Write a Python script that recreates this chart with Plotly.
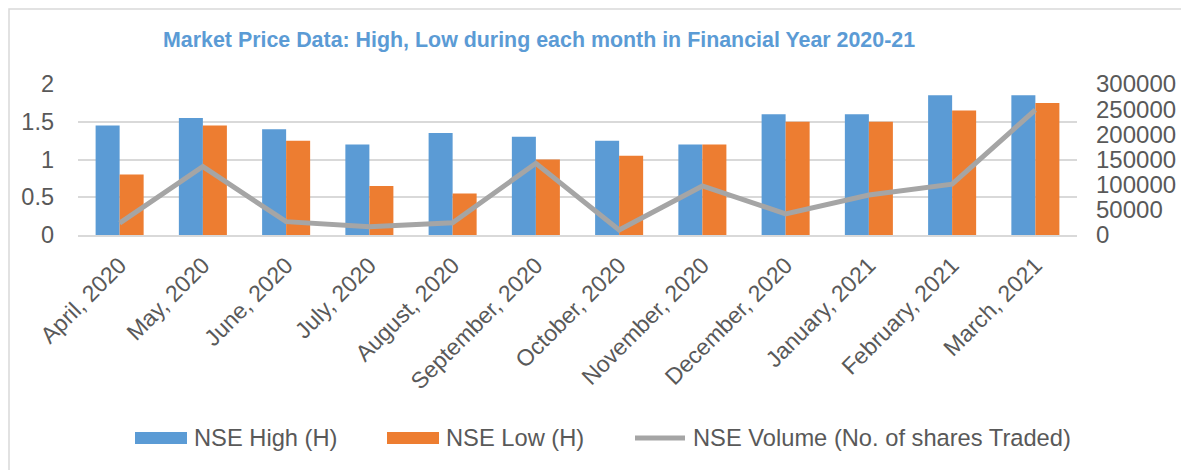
import plotly.graph_objects as go

months = ["April, 2020", "May, 2020", "June, 2020", "July, 2020", "August, 2020",
          "September, 2020", "October, 2020", "November, 2020", "December, 2020",
          "January, 2021", "February, 2021", "March, 2021"]
nse_high = [1.45, 1.55, 1.40, 1.20, 1.35, 1.30, 1.25, 1.20, 1.60, 1.60, 1.85, 1.85]
nse_low = [0.80, 1.45, 1.25, 0.65, 0.55, 1.00, 1.05, 1.20, 1.50, 1.50, 1.65, 1.75]
nse_volume = [23500, 136000, 26500, 16500, 24500, 142500, 10000, 97500, 42000, 79500, 101000, 248500]

series_names = ["NSE High (H)", "NSE Low (H)", "NSE Volume (No. of shares Traded)"]
title_text = "Market Price Data: High, Low during each month in Financial Year 2020-21"

BLUE = "#5B9BD5"
ORANGE = "#ED7D31"
GRAY = "#A5A5A5"
TXT = "#595959"
GRID = "#D9D9D9"
FONT = "Liberation Sans, Arial, sans-serif"

OFF = 8  # page body margin
W, H = 1189 - OFF, 470 - OFF
# plot area in window pixel coordinates
PL, PR, PT, PB = 78, 1077, 84, 235


def px(x):
    return (x - PL) / (PR - PL)


def py(y):
    return (PB - y) / (PB - PT)


fig = go.Figure()
fig.add_trace(go.Bar(x=months, y=nse_high, name=series_names[0], marker_color=BLUE,
                     marker_line_width=0))
fig.add_trace(go.Bar(x=months, y=nse_low, name=series_names[1], marker_color=ORANGE,
                     marker_line_width=0))
fig.add_trace(go.Scatter(x=months, y=nse_volume, name=series_names[2], yaxis="y2",
                         mode="lines", line=dict(color=GRAY, width=5)))

shapes = [
    # outer frame (left and top edges)
    dict(type="path", xref="paper", yref="paper",
         path=f"M {px(OFF + 1)} {py(480)} L {px(OFF + 1)} {py(OFF + 1)} L {px(1200)} {py(OFF + 1)}",
         line=dict(color=GRID, width=1.5)),
    # legend symbols
    dict(type="rect", xref="paper", yref="paper", x0=px(135), x1=px(187),
         y0=py(432), y1=py(444), fillcolor=BLUE, line_width=0),
    dict(type="rect", xref="paper", yref="paper", x0=px(387), x1=px(439),
         y0=py(432), y1=py(444), fillcolor=ORANGE, line_width=0),
    dict(type="line", xref="paper", yref="paper", x0=px(635), x1=px(685),
         y0=py(438), y1=py(438), line=dict(color=GRAY, width=5)),
]

annotations = [
    dict(text=f"<b>{title_text}</b>", xref="paper", yref="paper", x=px(539), y=py(40),
         xanchor="center", yanchor="middle", showarrow=False,
         font=dict(family=FONT, size=21.4, color=BLUE)),
    dict(text=series_names[0], xref="paper", yref="paper", x=px(192), y=py(438),
         xanchor="left", yanchor="middle", showarrow=False,
         font=dict(family=FONT, size=23.7, color=TXT)),
    dict(text=series_names[1], xref="paper", yref="paper", x=px(444), y=py(438),
         xanchor="left", yanchor="middle", showarrow=False,
         font=dict(family=FONT, size=23.7, color=TXT)),
    dict(text=series_names[2], xref="paper", yref="paper", x=px(691), y=py(438),
         xanchor="left", yanchor="middle", showarrow=False,
         font=dict(family=FONT, size=23.7, color=TXT)),
]

fig.update_layout(
    width=W, height=H, autosize=False,
    margin=dict(l=PL - OFF, r=W + OFF - PR, t=PT - OFF, b=H + OFF - PB, pad=0),
    paper_bgcolor="white", plot_bgcolor="white",
    showlegend=False,
    barmode="group", bargap=0.423, bargroupgap=0,
    font=dict(family=FONT, size=23, color=TXT),
    xaxis=dict(tickangle=-45, showgrid=False, showline=True, linecolor=GRID, linewidth=1.5,
               ticks="", tickfont=dict(size=23, color=TXT), ticklabelstandoff=6,
               fixedrange=True),
    yaxis=dict(range=[0, 2], dtick=0.5, showgrid=True, gridcolor=GRID, gridwidth=1.5,
               zeroline=False, showline=False, ticks="", ticklabelstandoff=23,
               tickfont=dict(size=23.5, color=TXT)),
    yaxis2=dict(range=[0, 300000], dtick=50000, overlaying="y", side="right",
                showgrid=False, zeroline=False, showline=False, ticks="",
                tickformat="d", ticklabelstandoff=18,
                tickfont=dict(size=24, color=TXT)),
    shapes=shapes,
    annotations=annotations,
)

fig.write_html("out.html")
